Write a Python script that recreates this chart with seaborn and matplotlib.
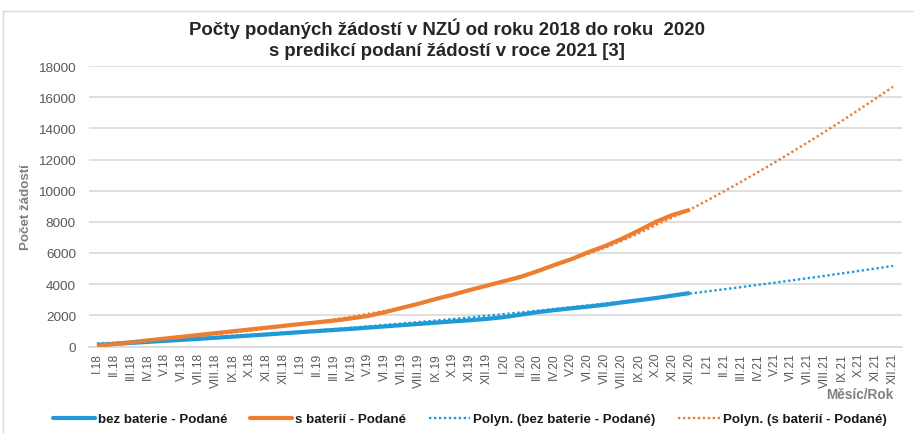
import numpy as np
import pandas as pd
import matplotlib
matplotlib.use("Agg")
import matplotlib.pyplot as plt
from matplotlib.lines import Line2D
import seaborn as sns

# ---------------- data ----------------
months = ["I", "II", "III", "IV", "V", "VI", "VII", "VIII", "IX", "X", "XI", "XII"]
years = ["18", "19", "20", "21"]
categories = [f"{m}.{y}" for y in years for m in months]

# submitted applications (I.18 - XII.20)
bez_baterie = [100, 165, 230, 295, 360, 425, 490, 560, 630, 700, 770, 845,
               920, 990, 1060, 1130, 1210, 1290, 1370, 1450, 1530, 1610, 1680, 1770,
               1880, 2040, 2200, 2330, 2450, 2560, 2680, 2830, 2970, 3110, 3270, 3430]
s_baterii = [40, 157, 273, 390, 507, 623, 740, 857, 973, 1090, 1207, 1323,
             1440, 1550, 1660, 1800, 1960, 2200, 2480, 2750, 3050, 3320, 3620, 3900,
             4180, 4460, 4830, 5230, 5600, 6050, 6450, 6920, 7450, 8000, 8450, 8770]

# polynomial trendlines as drawn in the chart (I.18 - XII.21)
trend_bez_baterie = [190, 241, 295, 351, 409, 470, 533, 598, 666, 736, 809, 884,
                     961, 1041, 1123, 1208, 1295, 1384, 1476, 1570, 1666, 1765, 1866, 1970,
                     2075, 2184, 2294, 2407, 2523, 2641, 2761, 2884, 3009, 3136, 3266, 3398,
                     3532, 3669, 3808, 3950, 4094, 4240, 4389, 4540, 4694, 4850, 5008, 5169]
trend_s_baterii = [100, 190, 282, 375, 471, 570, 674, 782, 896, 1016, 1143, 1278,
                   1421, 1574, 1737, 1910, 2095, 2292, 2502, 2740, 3020, 3310, 3605, 3905,
                   4215, 4535, 4865, 5210, 5570, 5950, 6345, 6780, 7270, 7790, 8300, 8780,
                   9355, 9945, 10550, 11170, 11805, 12455, 13120, 13800, 14495, 15205, 15930, 16670]

series_names = ["bez baterie - Podané", "s baterií - Podané"]
trend_names = ["Polyn. (bez baterie - Podané)", "Polyn. (s baterií - Podané)"]
colors = ["#1f9ad6", "#ed7d31"]
title_text = "Počty podaných žádostí v NZÚ od roku 2018 do roku  2020\ns predikcí podaní žádostí v roce 2021 [3]"
ylabel_text = "Počet žádostí"
xlabel_text = "Měsíc/Rok"
yticks = list(range(0, 18001, 2000))

# ---------------- frames ----------------
n_data = len(bez_baterie)
n_all = len(categories)
df = pd.DataFrame({
    "idx": list(range(n_data)) * 2,
    "value": bez_baterie + s_baterii,
    "series": [series_names[0]] * n_data + [series_names[1]] * n_data,
})
tdf = pd.DataFrame({
    "idx": list(range(n_all)) * 2,
    "value": trend_bez_baterie + trend_s_baterii,
    "series": [trend_names[0]] * n_all + [trend_names[1]] * n_all,
})

# ---------------- style ----------------
sns.set_theme(style="white")
fam = ["Liberation Sans", "DejaVu Sans"]
plt.rcParams["font.family"] = fam

fig = plt.figure(figsize=(9.14, 4.35), dpi=100)
ax = fig.add_axes([88.5 / 914, 87.5 / 435, (901.5 - 88.5) / 914, (347.5 - 67) / 435])

sns.lineplot(data=df, x="idx", y="value", hue="series", palette=colors,
             linewidth=3.0, ax=ax, legend=False, solid_capstyle="butt", zorder=3)
sns.lineplot(data=tdf, x="idx", y="value", hue="series", palette=colors,
             linewidth=1.7, ax=ax, legend=False, zorder=4)
for ln in ax.lines[-2:]:
    ln.set_linestyle((0, (1, 1.1)))

ax.set_xlim(-0.5, n_all - 0.5)
ax.set_ylim(0, 18000)
ax.set_yticks(yticks)
ax.set_yticklabels([str(v) for v in yticks], color="#595959", fontsize=9.7)
ax.set_xticks(range(n_all))
ax.set_xticklabels(categories, rotation=90, color="#595959", fontsize=8.6)
ax.set_xticks(np.arange(-0.5, n_all, 1.0), minor=True)
ax.tick_params(axis="x", which="major", length=0, pad=4)
ax.tick_params(axis="x", which="minor", length=4, color="#d9d9d9", width=1)
ax.tick_params(axis="y", length=0, pad=9)
ax.grid(axis="y", color="#d9d9d9", linewidth=1.2)
ax.set_axisbelow(True)
for s in ["top", "right", "left"]:
    ax.spines[s].set_visible(False)
ax.spines["bottom"].set_color("#d9d9d9")
ax.spines["bottom"].set_linewidth(1.2)
ax.set_xlabel("")
ax.set_ylabel("")

fig.text(26 / 914, 1 - 207 / 435, ylabel_text, rotation=90, ha="center", va="center",
         fontsize=9.6, fontweight="bold", color="#7f7f7f")
fig.text(893 / 914, 1 - 395 / 435, xlabel_text, ha="right", va="center",
         fontsize=9.8, fontweight="bold", color="#7f7f7f")
fig.text(447 / 914, 1 - 39 / 435, title_text, ha="center", va="center",
         fontsize=13.4, fontweight="bold", color="#262626", linespacing=1.3)

# border lines of the chart area (top and left)
fig.add_artist(Line2D([3 / 914, 3 / 914], [0, 1 - 12 / 435], transform=fig.transFigure,
                      color="#d9d9d9", linewidth=1))
fig.add_artist(Line2D([3 / 914, 1], [1 - 12 / 435, 1 - 12 / 435], transform=fig.transFigure,
                      color="#d9d9d9", linewidth=1))

handles = [Line2D([], [], color=colors[0], linewidth=3.0),
           Line2D([], [], color=colors[1], linewidth=3.0),
           Line2D([], [], color=colors[0], linewidth=1.7, linestyle=(0, (1, 1.1))),
           Line2D([], [], color=colors[1], linewidth=1.7, linestyle=(0, (1, 1.1)))]
labels = series_names + trend_names
fig.legend(handles, labels, loc="center", bbox_to_anchor=(470 / 914, 1 - 420 / 435),
           ncol=4, frameon=False, handlelength=3.1, handletextpad=0.25,
           columnspacing=1.7, prop={"family": fam, "size": 9.6, "weight": "bold"},
           labelcolor="#1a1a1a")

fig.savefig("out.png", dpi=100)
